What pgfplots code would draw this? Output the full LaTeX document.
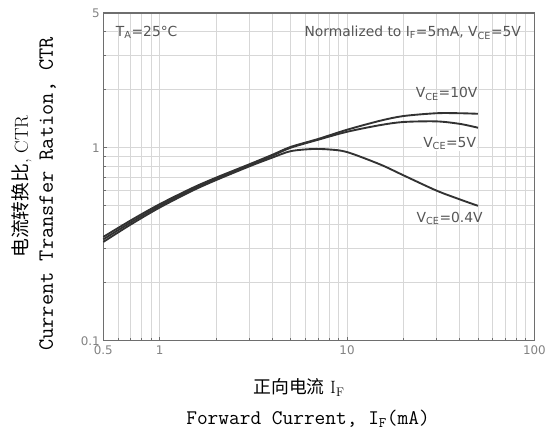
\documentclass[border=0pt]{standalone}
\usepackage{fontspec}
\newfontfamily\dejavu{DejaVu Sans}
\newfontfamily\cjk{Noto Sans CJK SC}
\usepackage{pgfplots}
\pgfplotsset{compat=1.18}
\definecolor{gridc}{RGB}{215,215,215}
\definecolor{framec}{RGB}{110,110,110}
\definecolor{tickc}{RGB}{130,130,130}
\definecolor{annc}{RGB}{85,85,85}
\definecolor{curvec}{RGB}{50,50,50}
\begin{document}
\begin{tikzpicture}
\begin{axis}[
  scale only axis, width=434bp, height=330bp,
  xmode=log, ymode=log,
  xmin=0.5, xmax=100, ymin=0.1, ymax=5,
  xtick={0.5,1,10,100}, xticklabels={0.5,1,10,100},
  ytick={0.1,1,5}, yticklabels={0.1,1,5},
  minor xtick={0.6,0.7,0.8,0.9,2,3,4,5,6,7,8,9,20,30,40,50,60,70,80,90},
  minor ytick={0.2,0.3,0.4,0.5,0.6,0.7,0.8,0.9,2,3,4},
  grid=both,
  major grid style={gridc, line width=0.8pt},
  minor grid style={gridc, line width=0.7pt},
  axis line style={framec, line width=1.3pt},
  xtick pos=bottom, ytick pos=left, tick align=inside,
  major tick length=4pt, minor tick length=3pt,
  tick style={framec, line width=0.7pt},
  ticklabel style={font=\dejavu\fontsize{12}{13}\selectfont, text=tickc},
  /pgf/number format/assume math mode=true,
  xticklabel style={yshift=-2pt},
  clip=false,
]
\addplot[curvec, line width=1.9pt, smooth] coordinates {
 (0.5,0.345) (0.7,0.42) (1,0.51) (1.5,0.62) (2,0.70) (3,0.82) (4,0.92) (5,1.01) (7,1.11) (10,1.24) (15,1.38) (20,1.46) (30,1.51) (40,1.51) (50,1.50)};
\addplot[curvec, line width=1.9pt, smooth] coordinates {
 (0.5,0.335) (0.7,0.41) (1,0.50) (1.5,0.61) (2,0.69) (3,0.81) (4,0.91) (5,1.0) (7,1.10) (10,1.21) (15,1.31) (20,1.36) (30,1.37) (40,1.33) (50,1.27)};
\addplot[curvec, line width=1.9pt, smooth] coordinates {
 (0.5,0.325) (0.7,0.40) (1,0.49) (1.5,0.60) (2,0.68) (3,0.80) (4,0.89) (5,0.96) (6.5,0.985) (8,0.98) (10,0.95) (15,0.82) (20,0.72) (30,0.60) (40,0.54) (50,0.50)};
\node[anchor=west, text=annc, inner sep=0pt, font=\dejavu\fontsize{14}{15}\selectfont] at (axis cs:0.583,3.95) {T\textsubscript{A}=25°C};
\node[anchor=east, text=annc, inner sep=0pt, font=\dejavu\fontsize{14}{15}\selectfont] at (axis cs:85,3.95) {Normalized to I\textsubscript{F}=5mA, V\textsubscript{CE}=5V};
\node[text=annc, font=\dejavu\fontsize{14}{15}\selectfont] at (axis cs:34,1.90) {V\textsubscript{CE}=10V};
\node[text=annc, fill=white, inner sep=1pt, font=\dejavu\fontsize{14}{15}\selectfont] at (axis cs:35.3,1.05) {V\textsubscript{CE}=5V};
\node[text=annc, font=\dejavu\fontsize{14}{15}\selectfont] at (axis cs:35.3,0.43) {V\textsubscript{CE}=0.4V};
\node[rotate=90, anchor=center, font=\fontsize{19}{20}\selectfont] at (axis description cs:-0.189,0.47) {{\cjk 电流转换比}, CTR};
\node[rotate=90, anchor=center, font=\fontsize{22}{22}\selectfont\ttfamily] at (axis description cs:-0.129,0.448) {Current Transfer Ration, CTR};
\node[anchor=center, font=\fontsize{18}{19}\selectfont] at (axis description cs:0.454,-0.142) {{\cjk 正向电流}\ I\textsubscript{F}};
\node[anchor=center, font=\fontsize{21}{21}\selectfont\ttfamily] at (axis description cs:0.475,-0.239) {Forward Current, I\textsubscript{F}(mA)};
\end{axis}
\path ([shift={(-104bp,-93bp)}]current axis.south west) rectangle ([shift={(11bp,13bp)}]current axis.north east);
\end{tikzpicture}
\end{document}
